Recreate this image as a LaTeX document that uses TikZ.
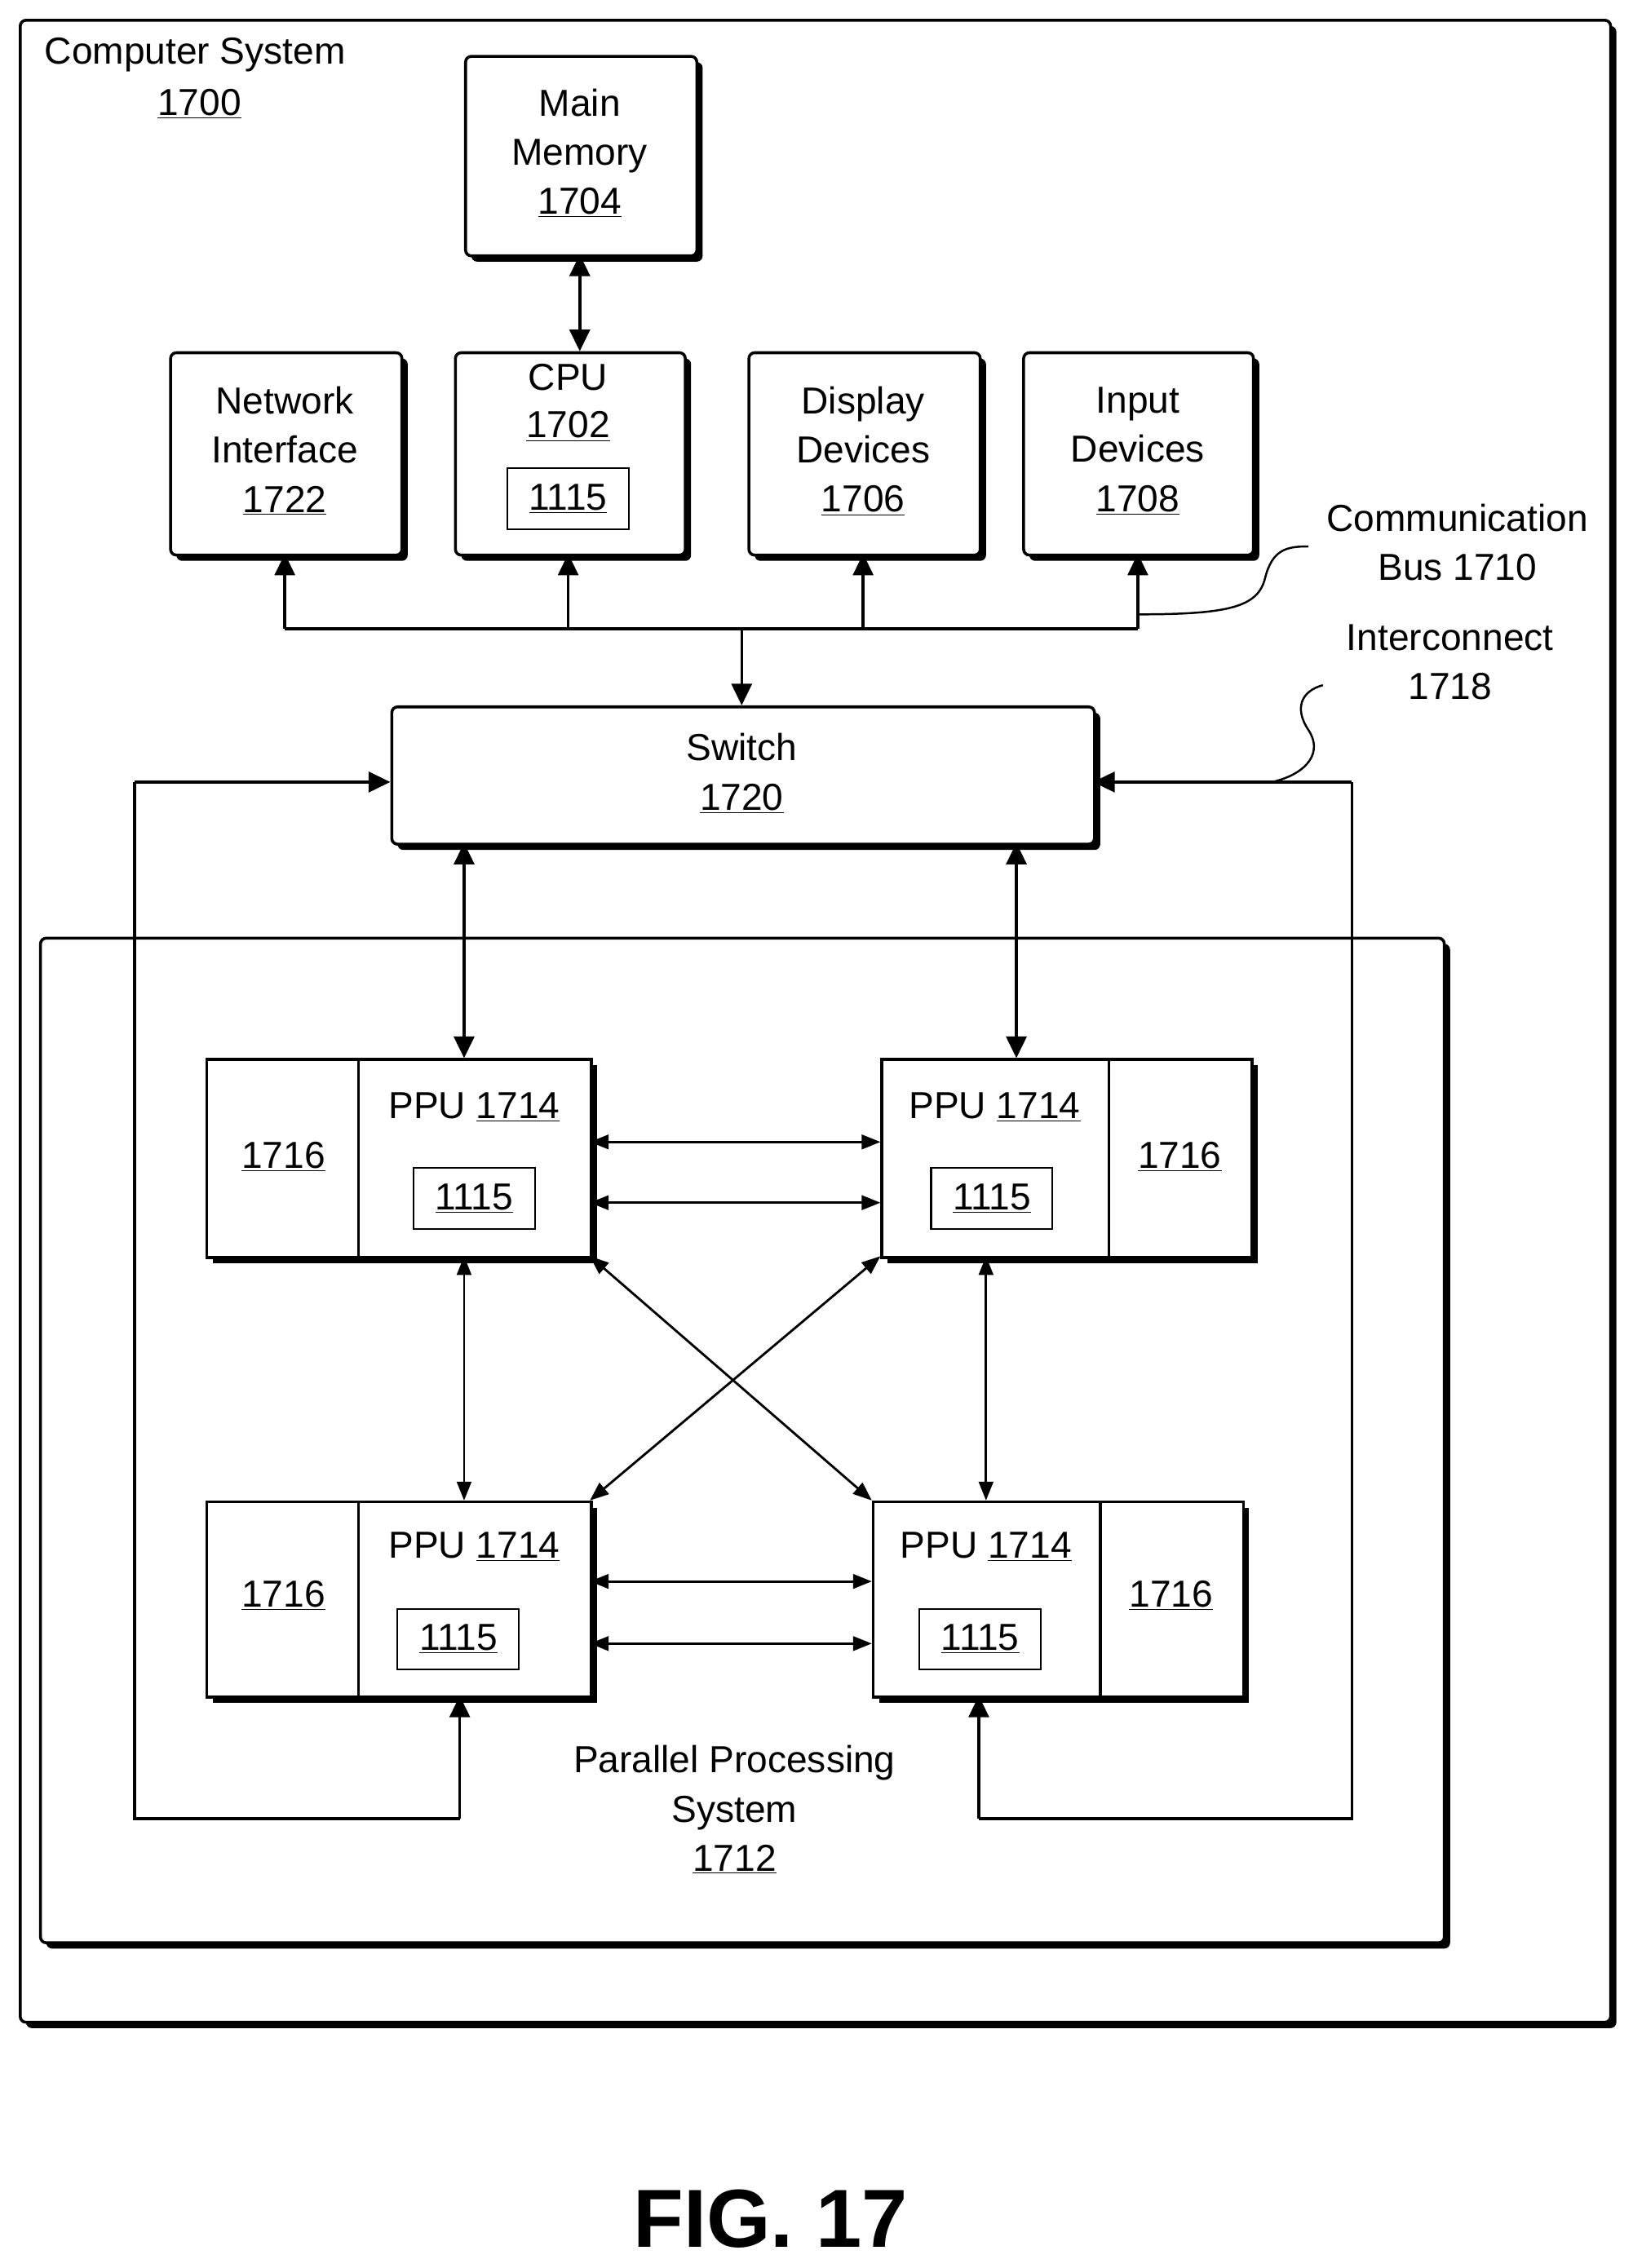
\documentclass[tikz,border=0pt]{standalone}
\usepackage{fontspec}
\setmainfont{Liberation Sans}
\usetikzlibrary{shadows,arrows.meta,positioning}
\begin{document}
\begin{tikzpicture}[x=1pt,y=-1pt,
  box/.style={draw,line width=2pt,fill=white,rounded corners=4pt,drop shadow={shadow xshift=4pt,shadow yshift=-4pt,fill=black,opacity=1},anchor=north west,inner sep=0pt},
  sq/.style={draw,line width=2pt,fill=white,anchor=north west,inner sep=0pt,drop shadow={shadow xshift=4pt,shadow yshift=-4pt,fill=black,opacity=1}},
  t/.style={font=\fontsize{26}{34}\selectfont,inner sep=0pt},
  ibox/.style={draw,line width=1.2pt,minimum width=84pt,minimum height=42pt,inner sep=0pt,font=\fontsize{26}{34}\selectfont},
  ln/.style={line width=2pt},
  ar/.style={line width=2pt,-{Triangle[length=15pt,width=14pt]}},
  dar/.style={line width=2.2pt,{Triangle[length=15pt,width=14pt]}-{Triangle[length=15pt,width=14pt]}},
  tar/.style={line width=1.6pt,{Triangle[length=13pt,width=10pt]}-{Triangle[length=13pt,width=10pt]}}]
\useasboundingbox (0,0) rectangle (1129,1569);
% outer
\node[box,minimum width=1100pt,minimum height=1385pt] (outer) at (13,13) {};
\node[t] (cs) at (135,38) {Computer System};
\node[t] (cs2) at (138,72) {\underline{1700}};
% top boxes
\node[box,minimum width=160pt,minimum height=138pt] (mm) at (321,38) {};
\node[t,align=center] (mmt) at (401,106) {Main\\Memory\\\underline{1704}};
\node[box,minimum width=159pt,minimum height=140pt] (cpu) at (314,243) {};
\node[t] (cput) at (393,261) {CPU};
\node[t] (cpun) at (393,295) {\underline{1702}};
\node[ibox] (cpub) at (393,345) {\underline{1115}};
\node[box,minimum width=160pt,minimum height=140pt] (ni) at (117,243) {};
\node[t,align=center] (nit) at (197,312) {Network\\Interface\\\underline{1722}};
\node[box,minimum width=160pt,minimum height=140pt] (dd) at (517,243) {};
\node[t,align=center] (ddt) at (597,312) {Display\\Devices\\\underline{1706}};
\node[box,minimum width=159pt,minimum height=140pt] (id) at (707,243) {};
\node[t,align=center] (idt) at (787,312) {Input\\Devices\\\underline{1708}};
\draw[dar] (401,176) -- (401,243);
% bus
\coordinate (b1) at (197,435); \coordinate (b4) at (787,435);
\draw[ln] (b1) -- (b4);
\draw[ar] (b1) -- (197,383);
\draw[ar] (393,435) -- (393,383);
\draw[ar] (597,435) -- (597,383);
\draw[ar] (b4) -- (787,383);
\draw[ar] (513,435) -- (513,488);
\node[t,align=center] (cb) at (1008,375) {Communication\\Bus 1710};
\draw[line width=1.4pt] (787,425) .. controls (850,425) and (870,420) .. (875,400) .. controls (880,380) and (890,378) .. (905,378);
% switch
\node[box,minimum width=486pt,minimum height=95pt] (sw) at (270,488) {};
\node[t,align=center] (swt) at (513,535) {Switch\\\underline{1720}};
\node[t,align=center] (ic) at (1003,458) {Interconnect\\1718};
\draw[line width=1.4pt] (880,541) .. controls (905,535) and (915,520) .. (905,505) .. controls (895,490) and (900,478) .. (915,474);
% PPS box
\node[box,minimum width=971pt,minimum height=695pt] (pps) at (27,648) {};
\node[t,align=center] (ppst) at (508,1252) {Parallel Processing\\System\\\underline{1712}};
% PPUs
\node[sq,minimum width=266pt,minimum height=137pt] (p1) at (142,732) {};
\draw[ln] (248,732) -- (248,869);
\node[t] at (196,800) {\underline{1716}};
\node[t] at (328,766) {PPU \underline{1714}};
\node[ibox] at (328,829) {\underline{1115}};
\node[sq,minimum width=256pt,minimum height=137pt] (p2) at (609,732) {};
\draw[ln] (767,732) -- (767,869);
\node[t] at (816,800) {\underline{1716}};
\node[t] at (688,766) {PPU \underline{1714}};
\node[ibox] at (686,829) {\underline{1115}};
\node[sq,minimum width=266pt,minimum height=135pt] (p3) at (142,1038) {};
\draw[ln] (248,1038) -- (248,1173);
\node[t] at (196,1104) {\underline{1716}};
\node[t] at (328,1070) {PPU \underline{1714}};
\node[ibox] at (317,1134) {\underline{1115}};
\node[sq,minimum width=256pt,minimum height=135pt] (p4) at (603,1038) {};
\draw[ln] (761,1038) -- (761,1173);
\node[t] at (810,1104) {\underline{1716}};
\node[t] at (682,1070) {PPU \underline{1714}};
\node[ibox] at (678,1134) {\underline{1115}};
% switch to PPUs
\draw[dar] (321,583) -- (321,732);
\draw[dar] (703,583) -- (703,732);
% interconnect loops
\draw[ln] (318,1258) -- (93,1258) -- (93,541);
\draw[ar] (93,541) -- (270,541);
\draw[ar] (318,1258) -- (318,1173);
\draw[ln] (677,1258) -- (935,1258) -- (935,541);
\draw[ar] (935,541) -- (756,541);
\draw[ar] (677,1258) -- (677,1173);
% PPU links
\draw[tar] (408,790) -- (609,790);
\draw[tar] (408,832) -- (609,832);
\draw[tar] (408,1094) -- (603,1094);
\draw[tar] (408,1137) -- (603,1137);
\draw[tar] (321,869) -- (321,1038);
\draw[tar] (682,869) -- (682,1038);
\draw[tar] (408,869) -- (603,1038);
\draw[tar] (609,869) -- (408,1038);
\node[font=\fontsize{57}{60}\selectfont\bfseries,inner sep=0pt] (fig) at (533,1535) {FIG. 17};
\end{tikzpicture}
\end{document}
